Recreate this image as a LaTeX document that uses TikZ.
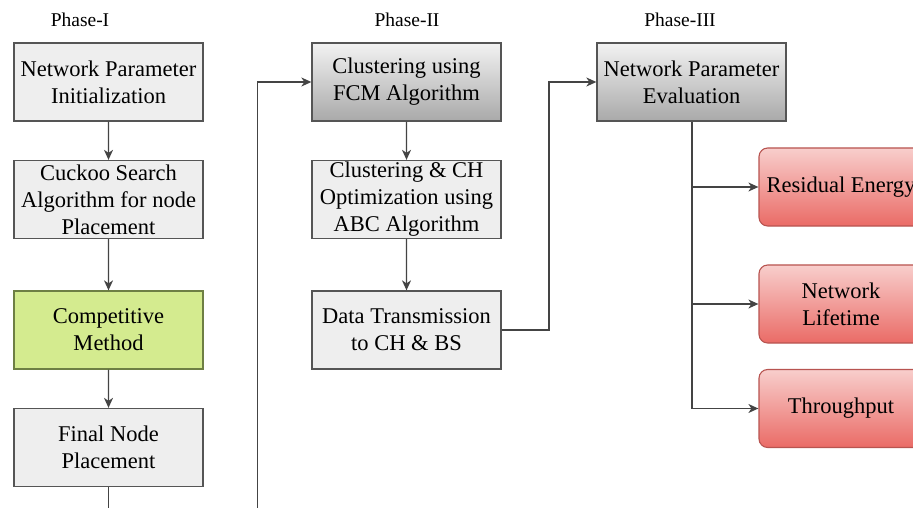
\documentclass[tikz,border=0pt]{standalone}
\usepackage{fontspec}
\setmainfont{Liberation Serif}
\usetikzlibrary{arrows.meta,positioning}
\definecolor{boxgray}{HTML}{EEEEEE}
\definecolor{boxline}{HTML}{555555}
\definecolor{lineg}{HTML}{444444}
\definecolor{greenfill}{HTML}{D4EB8F}
\definecolor{greenline}{HTML}{6E7F44}
\definecolor{gradtop}{HTML}{F2F2F2}
\definecolor{gradbot}{HTML}{A9A9A9}
\definecolor{redtop}{HTML}{F8CECC}
\definecolor{redbot}{HTML}{EA6B66}
\definecolor{redline}{HTML}{B85450}
\tikzset{
  boxbase/.style={scale=1.154, minimum width=163.8pt, minimum height=67.6pt, align=center, inner sep=0pt,
    font=\fontsize{19.5}{23.4}\selectfont, line width=1.1pt},
  graybox/.style={boxbase, draw=boxline, fill=boxgray},
  greenbox/.style={boxbase, draw=greenline, fill=greenfill},
  gradbox/.style={boxbase, draw=boxline, top color=gradtop, bottom color=gradbot},
  redbox/.style={boxbase, draw=redline, rounded corners=8.7pt, minimum width=142.1pt, top color=redtop, bottom color=redbot},
  phase/.style={font=\fontsize{19.5}{23.4}\selectfont},
  conn/.style={draw=lineg, line width=1.3pt},
  arr/.style={conn, -{Stealth[length=10pt,width=9pt,inset=3pt]}},
}
\begin{document}
\begin{tikzpicture}[x=1pt,y=-1pt]
\useasboundingbox (0,0) rectangle (913,508);
\fill[white] (0,0) rectangle (913,508);
% Phase labels
\node[phase] (p1) at (80,20) {Phase-I};
\node[phase] (p2) at (407,20) {Phase-II};
\node[phase] (p3) at (680,20) {Phase-III};
% Phase I
\node[graybox] (n1) at (108.5,82) {Network Parameter\\Initialization};
\node[graybox] (n2) at (108.5,199.5) {Cuckoo Search\\Algorithm for node\\Placement};
\node[greenbox] (n3) at (108.5,330) {Competitive\\Method};
\node[graybox] (n4) at (108.5,447.5) {Final Node\\Placement};
% Phase II
\node[gradbox] (m1) at (406.5,82) {Clustering using\\FCM Algorithm};
\node[graybox] (m2) at (406.5,199.5) {Clustering \& CH\\Optimization using\\ABC Algorithm};
\node[graybox] (m3) at (406.5,330) {Data Transmission\\to CH \& BS};
% Phase III
\node[gradbox] (e1) at (691.5,82) {Network Parameter\\Evaluation};
\node[redbox] (r1) at (841,187) {Residual Energy};
\node[redbox] (r2) at (841,304) {Network\\Lifetime};
\node[redbox] (r3) at (841,408.5) {Throughput};
% coordinates
\coordinate (bot1) at (108.5,520);
\coordinate (bot2) at (257.5,520);
\coordinate (jx) at (549,0);
\coordinate (vx) at (692,0);
% connectors
\draw[arr] (n1) -- (n2);
\draw[arr] (n2) -- (n3);
\draw[arr] (n3) -- (n4);
\draw[conn] (n4.south) -- (bot1);
\draw[arr] (bot2) |- (m1.west);
\draw[arr] (m1) -- (m2);
\draw[arr] (m2) -- (m3);
\draw[arr] (m3.east) -| (jx |- e1.west) -- (e1.west);
\draw[conn] (e1.south -| vx) -- (vx |- r3.west);
\draw[arr] (vx |- r1.west) -- (r1.west);
\draw[arr] (vx |- r2.west) -- (r2.west);
\draw[arr] (vx |- r3.west) -- (r3.west);
\end{tikzpicture}
\end{document}
